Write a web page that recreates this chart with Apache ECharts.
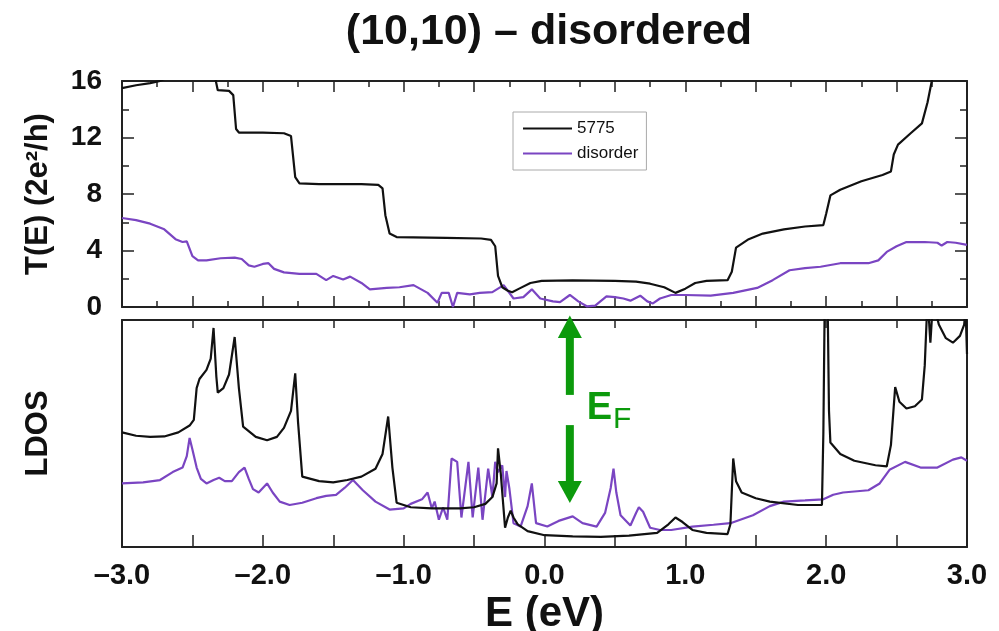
<!DOCTYPE html>
<html><head><meta charset="utf-8">
<script src="https://cdn.jsdelivr.net/npm/echarts@6/dist/echarts.min.js"></script>
<style>html,body{margin:0;padding:0;background:#fff}#c{width:999px;height:631px}</style>
</head><body><div id="c"></div>
<script>
const titleText = '(10,10) \u2013 disordered';
const seriesNames = ['5775', 'disorder'];
const xTickLabels = ['\u20133.0', '\u20132.0', '\u20131.0', '0.0', '1.0', '2.0', '3.0'];
const yTickValues = [0, 4, 8, 12, 16];

// Top panel: transmission T(E), black (5775)
const tBlackE = [-3.0,-2.9,-2.8,-2.73,-2.65,-2.5,-2.4,-2.34,-2.33,-2.32,-2.24,-2.21,-2.19,-2.17,-2.0,-1.85,-1.8,-1.77,-1.74,-1.6,-1.3,-1.18,-1.15,-1.13,-1.1,-1.05,-0.7,-0.45,-0.38,-0.35,-0.33,-0.3,-0.26,-0.23,-0.18,-0.1,-0.02,0.2,0.5,0.65,0.75,0.85,0.93,1.0,1.07,1.15,1.3,1.33,1.36,1.45,1.55,1.7,1.85,1.98,2.0,2.03,2.1,2.25,2.4,2.46,2.48,2.51,2.6,2.68,2.72,2.75,2.78,3.0];
const tBlackV = [15.5,15.7,15.85,16.0,16.4,16.8,16.8,16.3,16.2,15.35,15.3,15.0,12.6,12.35,12.35,12.3,12.1,9.2,8.75,8.7,8.7,8.65,8.4,6.5,5.2,4.95,4.9,4.85,4.75,4.3,2.2,1.4,1.15,1.05,1.3,1.7,1.85,1.88,1.85,1.8,1.65,1.4,1.0,1.3,1.7,1.85,1.9,2.5,4.2,4.8,5.2,5.5,5.7,5.8,6.6,7.9,8.3,8.9,9.35,9.6,10.8,11.5,12.3,13.0,14.5,16.0,17.0,20.0];

// Top panel: transmission T(E), purple (disorder)
const tDisE = [-3.0,-2.9,-2.8,-2.7,-2.62,-2.57,-2.54,-2.5,-2.46,-2.4,-2.3,-2.2,-2.15,-2.1,-2.06,-2.0,-1.96,-1.92,-1.85,-1.74,-1.62,-1.55,-1.5,-1.43,-1.38,-1.3,-1.24,-1.12,-1.03,-0.93,-0.83,-0.76,-0.73,-0.68,-0.65,-0.62,-0.53,-0.46,-0.37,-0.29,-0.22,-0.15,-0.09,-0.03,0.06,0.11,0.18,0.24,0.3,0.36,0.44,0.5,0.56,0.61,0.68,0.73,0.77,0.82,0.9,1.0,1.18,1.34,1.51,1.62,1.74,1.85,1.96,2.1,2.3,2.37,2.43,2.5,2.57,2.7,2.79,2.82,2.86,2.92,3.0];
const tDisV = [6.3,6.15,5.9,5.5,4.8,4.6,4.65,3.6,3.3,3.3,3.45,3.5,3.4,2.95,2.85,3.05,3.1,2.7,2.45,2.35,2.35,1.9,2.2,1.95,2.15,1.7,1.25,1.35,1.4,1.55,1.0,0.3,1.0,1.0,0.0,1.0,0.9,1.0,1.05,1.55,0.6,0.7,1.25,0.6,0.4,0.35,0.85,0.4,0.05,0.1,0.75,0.7,0.6,0.45,0.8,0.4,0.25,0.6,0.85,0.85,0.8,1.0,1.35,1.9,2.6,2.75,2.85,3.1,3.1,3.3,3.9,4.3,4.6,4.6,4.55,4.35,4.6,4.55,4.4];

// Bottom panel: LDOS (arbitrary units), black (5775)
const ldBlackE = [-3.0,-2.9,-2.8,-2.7,-2.6,-2.52,-2.49,-2.47,-2.45,-2.4,-2.37,-2.35,-2.33,-2.32,-2.28,-2.24,-2.2,-2.17,-2.14,-2.05,-1.97,-1.9,-1.85,-1.8,-1.77,-1.75,-1.72,-1.6,-1.5,-1.4,-1.3,-1.2,-1.15,-1.11,-1.08,-1.05,-0.95,-0.8,-0.6,-0.5,-0.42,-0.37,-0.34,-0.33,-0.31,-0.3,-0.28,-0.26,-0.24,-0.22,-0.19,-0.12,0.0,0.2,0.4,0.6,0.8,0.88,0.93,0.98,1.05,1.15,1.3,1.32,1.34,1.36,1.4,1.5,1.6,1.8,1.97,1.98,1.99,2.01,2.02,2.03,2.1,2.2,2.35,2.43,2.46,2.49,2.52,2.57,2.63,2.68,2.7,2.72,2.74,2.76,2.78,2.8,2.85,2.9,2.95,2.98,2.99,3.0];
const ldBlackV = [5.05,4.9,4.85,4.87,5.05,5.35,5.6,7.0,7.4,7.8,8.3,9.65,7.5,6.8,7.0,7.6,9.25,7.0,5.3,4.85,4.7,4.85,5.25,6.0,7.65,5.5,3.1,2.9,2.85,2.95,3.1,3.45,4.1,5.75,3.5,1.95,1.75,1.7,1.7,1.75,1.9,2.2,2.8,4.35,3.2,2.4,0.85,1.3,1.6,1.3,1.0,0.7,0.52,0.47,0.45,0.5,0.62,1.0,1.3,1.1,0.75,0.62,0.57,1.0,3.9,2.9,2.4,2.15,2.0,1.85,1.85,5.0,11,11,6.0,4.6,4.1,3.8,3.6,3.55,4.5,7.05,6.4,6.1,6.2,6.5,8.0,11,9.0,11,10.3,9.8,9.2,9.0,9.3,9.8,10.5,8.5];

// Bottom panel: LDOS (arbitrary units), purple (disorder)
const ldDisE = [-3.0,-2.85,-2.73,-2.64,-2.57,-2.54,-2.52,-2.5,-2.47,-2.44,-2.4,-2.35,-2.31,-2.27,-2.22,-2.17,-2.13,-2.1,-2.07,-2.03,-2.0,-1.97,-1.93,-1.88,-1.81,-1.72,-1.62,-1.55,-1.48,-1.42,-1.36,-1.29,-1.2,-1.1,-1.0,-0.95,-0.87,-0.83,-0.8,-0.78,-0.75,-0.72,-0.69,-0.66,-0.62,-0.59,-0.54,-0.51,-0.47,-0.44,-0.4,-0.37,-0.35,-0.33,-0.3,-0.28,-0.27,-0.25,-0.22,-0.17,-0.12,-0.09,-0.06,0.02,0.1,0.2,0.27,0.37,0.43,0.47,0.49,0.51,0.54,0.61,0.65,0.67,0.7,0.75,0.82,0.9,1.05,1.2,1.32,1.48,1.6,1.7,1.85,1.98,2.05,2.12,2.3,2.38,2.45,2.56,2.67,2.79,2.9,2.96,3.0];
const ldDisV = [2.8,2.85,2.95,3.3,3.5,4.0,4.8,4.3,3.5,3.0,2.8,2.95,3.05,2.9,2.9,3.3,3.5,3.0,2.55,2.4,2.6,2.8,2.4,2.0,1.85,1.95,2.15,2.25,2.3,2.6,2.95,2.5,2.0,1.65,1.7,1.9,2.1,2.4,1.7,2.0,1.2,1.75,1.2,3.9,3.75,1.3,3.75,1.3,3.5,1.2,3.45,2.2,3.75,3.3,3.6,2.2,3.35,2.6,1.05,0.9,1.8,2.8,1.05,0.9,1.15,1.35,1.05,0.9,1.5,2.6,3.45,2.4,1.4,0.95,1.5,1.75,1.55,0.85,0.75,0.75,0.9,0.98,1.05,1.4,1.8,2.0,2.05,2.1,2.3,2.4,2.5,2.8,3.4,3.75,3.5,3.5,3.85,3.95,3.8];

// Fermi-level annotation (data units of the lower panel)
const efEnergy = 0.18;
const efUpArrow = [6.7, 9.25, 10.2];   // shaft bottom, head base, tip
const efDownArrow = [5.37, 2.86, 1.94]; // shaft top, head base, tip

const zip = (a, b) => a.map((x, i) => [x, b[i]]);
const FONT = 'Liberation Sans, Arial, sans-serif';
const AX = '#222';
const BLACK = '#111';
const PURPLE = '#7a45c2';
const GREEN = '#0c9a0c';

const chart = echarts.init(document.getElementById('c'), null, {renderer: 'canvas'});

function xAx(grid, pos, opts) {
  return Object.assign({
    type: 'value', gridIndex: grid, position: pos, min: -3, max: 3, interval: 0.5,
    axisLine: {onZero: false, lineStyle: {color: AX, width: 2}},
    axisTick: {inside: true, length: 11, lineStyle: {color: AX, width: 1.5}},
    minorTick: {show: false},
    axisLabel: {show: false},
    splitLine: {show: false}
  }, opts || {});
}
function yAx(grid, pos, max, opts) {
  return Object.assign({
    type: 'value', gridIndex: grid, position: pos, min: 0, max: max,
    axisLine: {show: true, onZero: false, lineStyle: {color: AX, width: 2}},
    axisTick: {show: false}, splitLine: {show: false}, axisLabel: {show: false}
  }, opts || {});
}
const topYTicks = {
  interval: 4,
  axisTick: {show: true, inside: true, length: 12, lineStyle: {color: AX, width: 1.5}},
  minorTick: {show: true, splitNumber: 2, length: 7, lineStyle: {color: AX, width: 1.5}}
};
const topXMinor = {minorTick: {show: true, splitNumber: 2, length: 6, lineStyle: {color: AX, width: 1.5}}};

const option = {
  backgroundColor: '#fff',
  animation: false,
  title: {
    text: titleText, left: 544, top: 6, textAlign: 'center',
    textStyle: {fontFamily: FONT, fontWeight: 'bold', fontSize: 43, color: '#111'}
  },
  legend: {
    orient: 'vertical', left: 513, top: 112, data: seriesNames, icon: 'rect',
    itemWidth: 49, itemHeight: 2, itemGap: 8, padding: [8, 8, 8, 10],
    borderColor: '#aaa', borderWidth: 1, backgroundColor: '#fff',
    textStyle: {fontFamily: FONT, fontSize: 17, color: '#111', width: 72}
  },
  grid: [
    {left: 122, right: 32, top: 81, height: 226, outerBoundsMode: 'none', containLabel: false},
    {left: 122, right: 32, top: 320, height: 227, outerBoundsMode: 'none', containLabel: false}
  ],
  xAxis: [
    xAx(0, 'bottom', topXMinor),
    xAx(0, 'top', topXMinor),
    xAx(1, 'bottom', {
      axisTick: {inside: true, length: 12, lineStyle: {color: AX, width: 1.5}},
      axisLabel: {
        show: true, margin: 14, color: '#111', fontFamily: FONT, fontWeight: 'bold', fontSize: 29,
        formatter: v => Number.isInteger(v) ? xTickLabels[v + 3] : ''
      },
      name: 'E (eV)', nameLocation: 'middle', nameGap: 46,
      nameTextStyle: {fontFamily: FONT, fontWeight: 'bold', fontSize: 42, color: '#111'}
    }),
    xAx(1, 'top', {axisTick: {inside: true, length: 8, lineStyle: {color: AX, width: 1.5}}})
  ],
  yAxis: [
    yAx(0, 'left', 16, Object.assign({}, topYTicks, {
      axisLabel: {show: true, margin: 20, color: '#111', fontFamily: FONT, fontWeight: 'bold', fontSize: 28,
        formatter: v => yTickValues.includes(v) ? String(v) : ''},
      name: 'T(E) (2e\u00b2/h)', nameLocation: 'middle', nameGap: 68, nameRotate: 90,
      nameTextStyle: {fontFamily: FONT, fontWeight: 'bold', fontSize: 31, color: '#111'}
    })),
    yAx(0, 'right', 16, topYTicks),
    yAx(1, 'left', 10, {
      name: 'LDOS', nameLocation: 'middle', nameGap: 68, nameRotate: 90,
      nameTextStyle: {fontFamily: FONT, fontWeight: 'bold', fontSize: 31, color: '#111'}
    }),
    yAx(1, 'right', 10)
  ],
  series: [
    {name: seriesNames[0], type: 'line', xAxisIndex: 0, yAxisIndex: 0, data: zip(tBlackE, tBlackV),
      showSymbol: false, lineStyle: {color: BLACK, width: 2.2}, itemStyle: {color: BLACK}, z: 3},
    {name: seriesNames[1], type: 'line', xAxisIndex: 0, yAxisIndex: 0, data: zip(tDisE, tDisV),
      showSymbol: false, lineStyle: {color: PURPLE, width: 2.2}, itemStyle: {color: PURPLE}, z: 2},
    {name: seriesNames[0], type: 'line', xAxisIndex: 2, yAxisIndex: 2, data: zip(ldBlackE, ldBlackV),
      showSymbol: false, lineStyle: {color: BLACK, width: 2.2}, itemStyle: {color: BLACK}, z: 3},
    {name: seriesNames[1], type: 'line', xAxisIndex: 2, yAxisIndex: 2, data: zip(ldDisE, ldDisV),
      showSymbol: false, lineStyle: {color: PURPLE, width: 2.2}, itemStyle: {color: PURPLE}, z: 2}
  ]
};
chart.setOption(option);

// Fermi-level arrows and label, positioned through the lower grid's scales
const P = (e, v) => chart.convertToPixel({gridIndex: 1}, [e, v]);
const [ax] = P(efEnergy, 0);
const yU = efUpArrow.map(v => P(efEnergy, v)[1]);
const yD = efDownArrow.map(v => P(efEnergy, v)[1]);
const hw = 12, sw = 4;
const ePos = P(0.30, 6.1);
const fPos = P(0.486, 5.6);
chart.setOption({
  graphic: [
    {type: 'rect', shape: {x: ax - sw, y: yU[1], width: 2 * sw, height: yU[0] - yU[1]}, style: {fill: GREEN}, z: 10},
    {type: 'polygon', shape: {points: [[ax, yU[2]], [ax - hw, yU[1] + 1], [ax + hw, yU[1] + 1]]}, style: {fill: GREEN}, z: 10},
    {type: 'rect', shape: {x: ax - sw, y: yD[0], width: 2 * sw, height: yD[1] - yD[0]}, style: {fill: GREEN}, z: 10},
    {type: 'polygon', shape: {points: [[ax, yD[2]], [ax - hw, yD[1] - 1], [ax + hw, yD[1] - 1]]}, style: {fill: GREEN}, z: 10},
    {type: 'text', x: ePos[0], y: ePos[1], style: {text: 'E', fill: GREEN, font: 'bold 38px ' + FONT, textAlign: 'left', textVerticalAlign: 'middle'}, z: 10},
    {type: 'text', x: fPos[0], y: fPos[1], style: {text: 'F', fill: GREEN, font: '30px ' + FONT, textAlign: 'left', textVerticalAlign: 'middle'}, z: 10}
  ]
});
</script>
</body></html>
